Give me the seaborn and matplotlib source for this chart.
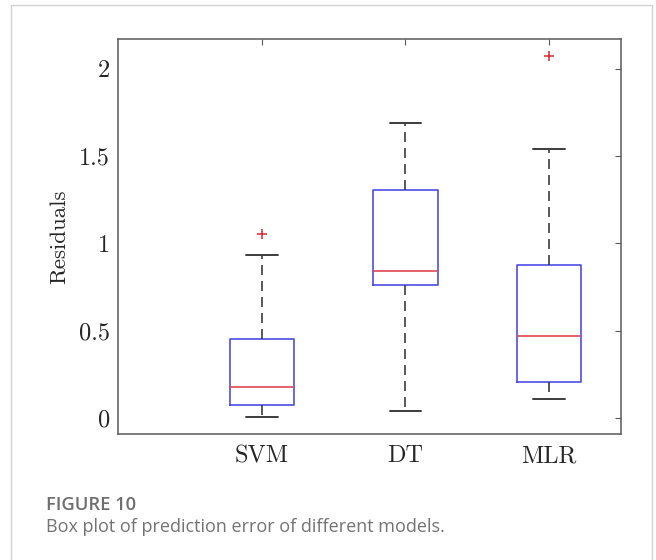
import matplotlib
matplotlib.use("Agg")
import matplotlib.pyplot as plt
import seaborn as sns
from matplotlib.patches import Rectangle

# Five-number summaries of the residuals for each model
models = ["SVM", "DT", "MLR"]
whisker_low = [0.008, 0.042, 0.108]
q1 = [0.076, 0.762, 0.209]
median = [0.177, 0.842, 0.470]
q3 = [0.456, 1.306, 0.878]
whisker_high = [0.933, 1.688, 1.542]
outliers = [[1.057], [], [2.070]]

y_ticks = [0, 0.5, 1, 1.5, 2]
y_tick_labels = ["0", "0.5", "1", "1.5", "2"]

BLUE = "#4d4de6"
RED = "#e0474f"
WHISKER = "#3c3c3c"
SPINE = "#5a5a5a"
TEXT = "#262626"

sns.set_style("white")
plt.rcParams["axes.formatter.use_mathtext"] = True

fig = plt.figure(figsize=(6.56, 5.6), dpi=100)
ax = fig.add_axes([0.1803, 0.225, 0.7659, 0.7054])

positions = list(range(1, len(models) + 1))
stats = [
    dict(label=m, whislo=lo, q1=a, med=md, q3=b, whishi=hi, fliers=[])
    for m, lo, a, md, b, hi in zip(models, whisker_low, q1, median, q3, whisker_high)
]
ax.bxp(
    stats,
    positions=positions,
    widths=0.45,
    capwidths=0.22,
    showfliers=False,
    boxprops=dict(color=BLUE, lw=1.2),
    medianprops=dict(color=RED, lw=1.2),
    whiskerprops=dict(color=WHISKER, lw=1.2, linestyle=(0, (6, 3.6))),
    capprops=dict(color=WHISKER, lw=1.4),
)

# Outlying residuals drawn as red crosses
fx = [p for p, vals in zip(positions, outliers) for _ in vals]
fy = [v for vals in outliers for v in vals]
sns.scatterplot(x=fx, y=fy, ax=ax, marker="+", s=45, color="#d9262f",
                linewidth=1.1, legend=False, zorder=5)

ax.set_xlim(0, 3.5)
ax.set_ylim(-0.09, 2.17)
ax.set_xticks(positions)
ax.set_xticklabels(models, family="cmr10", fontsize=17.5, color=TEXT)
ax.set_yticks(y_ticks)
ax.set_yticklabels(y_tick_labels, family="cmr10", fontsize=17.5, color=TEXT)
ax.set_ylabel("Residuals", family="cmr10", fontsize=16.5, color=TEXT, labelpad=7)
ax.set_xlabel("")

ax.tick_params(axis="both", direction="in", top=True, right=True,
               length=4, width=0.8, color=SPINE)
ax.tick_params(axis="x", pad=8)
ax.tick_params(axis="y", pad=6)
for sp in ax.spines.values():
    sp.set_color(SPINE)
    sp.set_linewidth(1.1)

# Caption panel border and text
fig.patches.append(Rectangle((11 / 656, -0.02), (652 - 11) / 656, 1.02 - 5 / 560,
                             transform=fig.transFigure, fill=False,
                             edgecolor="#d2d2d2", lw=1.0))
fig.text(46 / 656, 1 - 510 / 560, "FIGURE 10", family="Open Sans",
         fontweight="semibold", fontsize=13.2, color="#6e6e6e", va="baseline")
fig.text(46 / 656, 1 - 532 / 560, "Box plot of prediction error of different models.",
         family="Open Sans", fontsize=13, color="#737373", va="baseline")

fig.savefig("out.png", dpi=100)
